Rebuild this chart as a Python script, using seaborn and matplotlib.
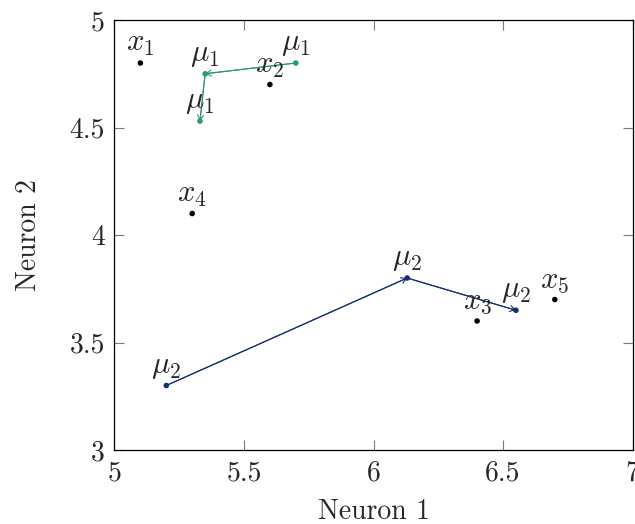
import matplotlib
matplotlib.use("Agg")
import matplotlib.pyplot as plt
import seaborn as sns
import pandas as pd

# Data points
point_names = ["x_1", "x_2", "x_3", "x_4", "x_5"]
point_x = [5.1, 5.6, 6.4, 5.3, 6.7]
point_y = [4.8, 4.7, 3.6, 4.1, 3.7]

# Centroid trajectories
mu1_x = [5.70, 5.35, 5.33]
mu1_y = [4.80, 4.75, 4.53]
mu2_x = [5.20, 6.13, 6.55]
mu2_y = [3.30, 3.80, 3.65]

x_ticks = [5, 5.5, 6, 6.5, 7]
y_ticks = [3, 3.5, 4, 4.5, 5]

GREEN = "#2a9970"
BLUE = "#142f6e"

sns.set_theme(style="white")
plt.rcParams.update({
    "font.family": "serif",
    "font.serif": ["cmr10", "DejaVu Serif"],
    "mathtext.fontset": "cm",
    "axes.formatter.use_mathtext": True,
    "axes.unicode_minus": False,
})

fig = plt.figure(figsize=(6.35, 5.24), dpi=100)
ax = fig.add_axes([0.1803, 0.1412, 0.8158, 0.8206])

FS = 20
LFS = 22

points = pd.DataFrame({"x": point_x, "y": point_y, "name": point_names})
sns.scatterplot(data=points, x="x", y="y", color="black", s=16,
                edgecolor="none", ax=ax, zorder=4)
for _, r in points.iterrows():
    ax.annotate(f"${r['name']}$", (r["x"], r["y"]), xytext=(0, 3.5),
                textcoords="offset points", ha="center", va="bottom",
                fontsize=LFS, zorder=5)


def trajectory(xs, ys, color, label):
    df = pd.DataFrame({"x": xs, "y": ys})
    sns.lineplot(data=df, x="x", y="y", sort=False, color=color,
                 linewidth=0.8, ax=ax, zorder=2)
    sns.scatterplot(data=df, x="x", y="y", color=color, s=16,
                    edgecolor="none", ax=ax, zorder=3)
    for i in range(len(xs) - 1):
        ax.annotate("", xy=(xs[i + 1], ys[i + 1]), xytext=(xs[i], ys[i]),
                    arrowprops=dict(arrowstyle="->,head_length=0.3,head_width=0.18",
                                    color=color, lw=0.8,
                                    shrinkA=0, shrinkB=0), zorder=3)
    for xv, yv in zip(xs, ys):
        ax.annotate(f"${label}$", (xv, yv), xytext=(0, 3.5),
                    textcoords="offset points", ha="center", va="bottom",
                    fontsize=LFS, zorder=5)


trajectory(mu1_x, mu1_y, GREEN, r"\mu_1")
trajectory(mu2_x, mu2_y, BLUE, r"\mu_2")

ax.set_xlim(5, 7)
ax.set_ylim(3, 5)
ax.set_xticks(x_ticks)
ax.set_yticks(y_ticks)
ax.set_xticklabels([f"{v:g}" for v in x_ticks])
ax.set_yticklabels([f"{v:g}" for v in y_ticks])
ax.set_xlabel("Neuron 1", fontsize=FS, labelpad=9)
ax.set_ylabel("Neuron 2", fontsize=FS, labelpad=20)

for s in ax.spines.values():
    s.set_visible(True)
    s.set_color("black")
    s.set_linewidth(0.9)
ax.tick_params(axis="both", which="major", direction="in", length=7.5,
               width=0.8, color="#7a7a7a", labelsize=FS,
               top=True, right=True, bottom=True, left=True, pad=7)

fig.savefig("out.png", dpi=100)
